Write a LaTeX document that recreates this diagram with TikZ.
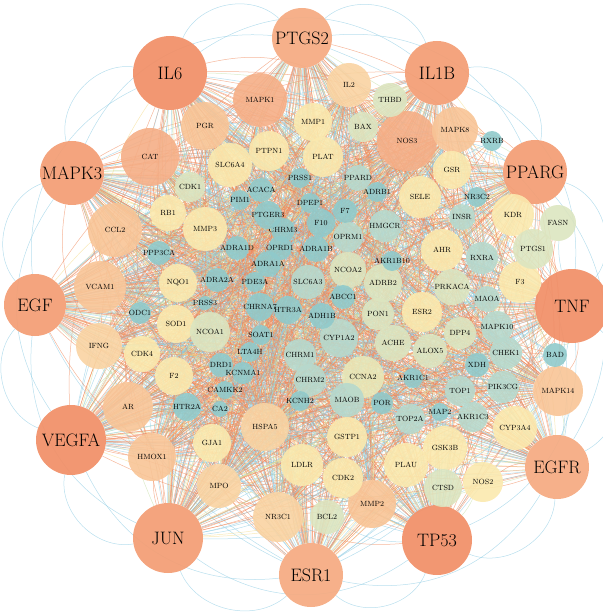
\documentclass[tikz,border=0pt]{standalone}
\usepackage{fontspec}
\usepackage{xcolor}
\usepackage{tikz}
\usetikzlibrary{backgrounds}
\definecolor{hubdark}{HTML}{F1916A}
\definecolor{hubmid}{HTML}{F39F77}
\definecolor{hublight}{HTML}{F5AC84}
\definecolor{corng}{HTML}{F5AE86}
\definecolor{cpch}{HTML}{F8C496}
\definecolor{clpch}{HTML}{F9D3A2}
\definecolor{cyel}{HTML}{FBE9AE}
\definecolor{cygrn}{HTML}{E9E8B8}
\definecolor{cpgrn}{HTML}{DCE5C0}
\definecolor{ctgrn}{HTML}{B7D9CD}
\definecolor{cteal}{HTML}{90CACB}
\definecolor{eor}{HTML}{F08A5D}
\definecolor{ebl}{HTML}{8CCBE3}
\definecolor{egr}{HTML}{C6DFA8}
\definecolor{eye}{HTML}{F5DC8C}
\colorlet{ec0}{eor}\colorlet{ec1}{eor}\colorlet{ec2}{eor}\colorlet{ec3}{eor}
\colorlet{ec4}{eor}\colorlet{ec5}{ebl}\colorlet{ec6}{ebl}\colorlet{ec7}{ebl}
\colorlet{ec8}{egr}\colorlet{ec9}{eye}
\tikzstyle{hub}   = [circle, inner sep=0pt, fill opacity=0.95, text opacity=1,
                     font=\fontsize{18}{20}\selectfont]
\tikzstyle{gene}  = [circle, inner sep=0pt, fill opacity=0.9, text opacity=1,
                     font=\fontsize{7.5}{8}\selectfont\addfontfeature{LetterSpace=18}]
\tikzstyle{orng}  = [gene, fill=corng]
\tikzstyle{pch}   = [gene, fill=cpch]
\tikzstyle{lpch}  = [gene, fill=clpch]
\tikzstyle{yel}   = [gene, fill=cyel]
\tikzstyle{ygrn}  = [gene, fill=cygrn]
\tikzstyle{pgrn}  = [gene, fill=cpgrn]
\tikzstyle{tgrn}  = [gene, fill=ctgrn]
\tikzstyle{tl}    = [gene, fill=cteal]
\tikzstyle{lnk}   = [line width=0.5pt, draw opacity=0.62]
% label that does not widen its circle
\newcommand\gl[1]{\makebox[0pt]{#1}}
\newcommand\hublist{PTGS2,IL1B,PPARG,TNF,EGFR,TP53,ESR1,JUN,VEGFA,EGF,MAPK3,IL6}
\newcommand\midlist{MAPK1,NOS3,CAT,CCL2,VCAM1,AR,MAPK8,PGR,HMOX1,MMP2,MAPK14,%
IFNG,NR3C1,MPO,HSPA5,IL2}
\newcommand\innerlist{RXRA,MAPK10,CHEK1,TOP1,PIK3CG,AKR1C3,TOP2A,HMGCR,SLC6A3,%
OPRM1,CYP1A2,MAOB,CHRM1,CHRM2,INSR,PPARD,MAOA,XDH,AKR1C1,MAP2,POR,KCNH2,%
CAMKK2,CA2,HTR2A,DRD1,KCNMA1,LTA4H,SOAT1,PRSS3,ODC1,PPP3CA,ADRA2A,PDE3A,%
ADRA1A,ADRA1D,OPRD1,CHRM3,PTGER3,PIM1,ACACA,PRSS1,DPEP1,F10,F7,ADRB1,ADRA1B,%
ABCC1,AKR1B10,ADH1B,HTR3A,CHRNA7,NCOA1,NCOA2,ADRB2,PON1,ACHE,CCNA2,ESR2,%
NQO1,SOD1,F2,MMP3,PTPN1,PLAT}
\edef\genelist{\midlist,\innerlist,MMP1,SLC6A4,RB1,CDK4,GJA1,GSTP1,LDLR,%
CDK2,PLAU,GSK3B,NOS2,CYP3A4,F3,KDR,AHR,SELE,GSR,BAX,THBD,BCL2,CTSD,FASN,%
PTGS1,CDK1,PRKACA,DPP4,ALOX5,RXRB,BAD,NR3C2}

\begin{document}
\begin{tikzpicture}[x=1pt, y=-1pt]
  \useasboundingbox (0,0) rectangle (602,612);

  % hubs
  \node[hub, fill=hublight, minimum size=60] (PTGS2) at (302,38) {PTGS2};
  \node[hub, fill=hubdark, minimum size=74] (IL6) at (170,73) {IL6};
  \node[hub, fill=hubmid, minimum size=64] (IL1B) at (437,73) {IL1B};
  \node[hub, fill=hubmid, minimum size=64] (MAPK3) at (72,173) {MAPK3};
  \node[hub, fill=hubmid, minimum size=64] (PPARG) at (535,172) {PPARG};
  \node[hub, fill=hubmid, minimum size=62] (EGF) at (35,305) {EGF};
  \node[hub, fill=hubdark, minimum size=74] (TNF) at (572,306) {TNF};
  \node[hub, fill=hubdark, minimum size=70] (VEGFA) at (71,440) {VEGFA};
  \node[hub, fill=hublight, minimum size=64] (EGFR) at (557,467) {EGFR};
  \node[hub, fill=hubmid, minimum size=70] (JUN) at (168,538) {JUN};
  \node[hub, fill=hubdark, minimum size=70] (TP53) at (437,540) {TP53};
  \node[hub, fill=hublight, minimum size=64] (ESR1) at (311,575) {ESR1};

  % second ring
  \node[orng, minimum size=54] (MAPK1) at (260,100) {\gl{MAPK1}};
  \node[orng, minimum size=60] (NOS3) at (407,141) {\gl{NOS3}};
  \node[orng, minimum size=58] (CAT) at (150,157) {\gl{CAT}};
  \node[pch, minimum size=54] (CCL2) at (115,230) {\gl{CCL2}};
  \node[pch, minimum size=52] (VCAM1) at (100,287) {\gl{VCAM1}};
  \node[pch, minimum size=50] (AR) at (128,407) {\gl{AR}};
  \node[pch, minimum size=46] (MAPK8) at (455,130) {\gl{MAPK8}};
  \node[pch, minimum size=48] (PGR) at (205,126) {\gl{PGR}};
  \node[pch, minimum size=48] (HMOX1) at (152,457) {\gl{HMOX1}};
  \node[pch, minimum size=48] (MMP2) at (372,504) {\gl{MMP2}};
  \node[pch, minimum size=50] (MAPK14) at (558,391) {\gl{MAPK14}};
  \node[lpch, minimum size=46] (IFNG) at (99,346) {\gl{IFNG}};
  \node[lpch, minimum size=50] (NR3C1) at (278,517) {\gl{NR3C1}};
  \node[lpch, minimum size=44] (MPO) at (219,486) {\gl{MPO}};
  \node[lpch, minimum size=48] (HSPA5) at (265,427) {\gl{HSPA5}};
  \node[lpch, minimum size=44] (IL2) at (349,85) {\gl{IL2}};

  % yellow
  \node[yel, minimum size=38] (MMP1) at (313,122) {\gl{MMP1}};
  \node[yel, minimum size=40] (PTPN1) at (269,151) {\gl{PTPN1}};
  \node[yel, minimum size=40] (PLAT) at (323,157) {\gl{PLAT}};
  \node[yel, minimum size=44] (SLC6A4) at (230,165) {\gl{SLC6A4}};
  \node[yel, minimum size=36] (RB1) at (168,213) {\gl{RB1}};
  \node[yel, minimum size=44] (MMP3) at (205,229) {\gl{MMP3}};
  \node[yel, minimum size=38] (NQO1) at (178,283) {\gl{NQO1}};
  \node[yel, minimum size=38] (SOD1) at (176,324) {\gl{SOD1}};
  \node[yel, minimum size=36] (CDK4) at (142,354) {\gl{CDK4}};
  \node[yel, minimum size=38] (F2) at (174,376) {\gl{F2}};
  \node[yel, minimum size=38] (GJA1) at (212,443) {\gl{GJA1}};
  \node[yel, minimum size=40] (GSTP1) at (347,437) {\gl{GSTP1}};
  \node[yel, minimum size=42] (LDLR) at (302,465) {\gl{LDLR}};
  \node[yel, minimum size=40] (CDK2) at (343,478) {\gl{CDK2}};
  \node[yel, minimum size=44] (PLAU) at (406,465) {\gl{PLAU}};
  \node[yel, minimum size=44] (GSK3B) at (445,448) {\gl{GSK3B}};
  \node[yel, minimum size=40] (NOS2) at (483,482) {\gl{NOS2}};
  \node[yel, minimum size=44] (CYP3A4) at (515,428) {\gl{CYP3A4}};
  \node[yel, minimum size=42] (F3) at (520,282) {\gl{F3}};
  \node[yel, minimum size=42] (KDR) at (513,215) {\gl{KDR}};
  \node[yel, minimum size=42] (AHR) at (442,250) {\gl{AHR}};
  \node[yel, minimum size=42] (SELE) at (420,197) {\gl{SELE}};
  \node[yel, minimum size=38] (GSR) at (452,170) {\gl{GSR}};
  \node[yel, minimum size=40] (ESR2) at (422,312) {\gl{ESR2}};
  \node[ygrn, minimum size=42] (CCNA2) at (363,377) {\gl{CCNA2}};

  % pale green
  \node[pgrn, minimum size=30] (BAX) at (363,127) {\gl{BAX}};
  \node[pgrn, minimum size=34] (THBD) at (390,100) {\gl{THBD}};
  \node[pgrn, minimum size=34] (BCL2) at (327,517) {\gl{BCL2}};
  \node[pgrn, minimum size=38] (CTSD) at (443,488) {\gl{CTSD}};
  \node[pgrn, minimum size=36] (FASN) at (558,223) {\gl{FASN}};
  \node[pgrn, minimum size=40] (PTGS1) at (533,249) {\gl{PTGS1}};
  \node[pgrn, minimum size=30] (CDK1) at (190,187) {\gl{CDK1}};
  \node[pgrn, minimum size=36] (PRKACA) at (452,287) {\gl{PRKACA}};
  \node[pgrn, minimum size=32] (DPP4) at (460,333) {\gl{DPP4}};
  \node[pgrn, minimum size=34] (ALOX5) at (430,351) {\gl{ALOX5}};
  \node[pgrn, minimum size=36] (NCOA2) at (348,270) {\gl{NCOA2}};
  \node[pgrn, minimum size=38] (ADRB2) at (383,283) {\gl{ADRB2}};
  \node[pgrn, minimum size=32] (PON1) at (378,314) {\gl{PON1}};
  \node[pgrn, minimum size=36] (ACHE) at (393,343) {\gl{ACHE}};
  \node[pgrn, minimum size=40] (NCOA1) at (210,332) {\gl{NCOA1}};

  % teal green
  \node[tgrn, minimum size=32] (RXRA) at (482,258) {\gl{RXRA}};
  \node[tgrn, minimum size=32] (MAPK10) at (497,327) {\gl{MAPK10}};
  \node[tgrn, minimum size=32] (CHEK1) at (506,353) {\gl{CHEK1}};
  \node[tgrn, minimum size=30] (TOP1) at (460,391) {\gl{TOP1}};
  \node[tgrn, minimum size=32] (PIK3CG) at (503,387) {\gl{PIK3CG}};
  \node[tgrn, minimum size=30] (AKR1C3) at (473,417) {\gl{AKR1C3}};
  \node[tgrn, minimum size=30] (TOP2A) at (410,419) {\gl{TOP2A}};
  \node[tgrn, minimum size=32] (HMGCR) at (385,226) {\gl{HMGCR}};
  \node[tgrn, minimum size=34] (SLC6A3) at (308,282) {\gl{SLC6A3}};
  \node[tgrn, minimum size=30] (OPRM1) at (348,237) {\gl{OPRM1}};
  \node[tgrn, minimum size=38] (CYP1A2) at (339,338) {\gl{CYP1A2}};
  \node[tgrn, minimum size=34] (MAOB) at (347,400) {\gl{MAOB}};
  \node[tgrn, minimum size=32] (CHRM1) at (300,355) {\gl{CHRM1}};
  \node[tgrn, minimum size=32] (CHRM2) at (310,380) {\gl{CHRM2}};
  \node[tgrn, minimum size=26] (INSR) at (462,217) {\gl{INSR}};
  \node[tgrn, minimum size=26] (PPARD) at (358,178) {\gl{PPARD}};
  \node[tgrn, minimum size=26] (MAOA) at (487,299) {\gl{MAOA}};

  % teal
  \node[tl, minimum size=20] (RXRB) at (492,141) {\gl{RXRB}};
  \node[tl, minimum size=24] (BAD) at (555,355) {\gl{BAD}};
  \node[tl, minimum size=20] (NR3C2) at (477,197) {\gl{NR3C2}};
  \node[tl, minimum size=24] (XDH) at (477,365) {\gl{XDH}};
  \node[tl, minimum size=20] (AKR1C1) at (413,378) {\gl{AKR1C1}};
  \node[tl, minimum size=18] (MAP2) at (440,412) {\gl{MAP2}};
  \node[tl, minimum size=22] (POR) at (382,403) {\gl{POR}};
  \node[tl, minimum size=20] (KCNH2) at (300,401) {\gl{KCNH2}};
  \node[tl, minimum size=18] (CAMKK2) at (225,390) {\gl{CAMKK2}};
  \node[tl, minimum size=16] (CA2) at (220,409) {\gl{CA2}};
  \node[tl, minimum size=28] (HTR2A) at (187,407) {\gl{HTR2A}};
  \node[tl, minimum size=24] (DRD1) at (221,365) {\gl{DRD1}};
  \node[tl, minimum size=22] (KCNMA1) at (243,373) {\gl{KCNMA1}};
  \node[tl, minimum size=20] (LTA4H) at (250,352) {\gl{LTA4H}};
  \node[tl, minimum size=20] (SOAT1) at (261,335) {\gl{SOAT1}};
  \node[tl, minimum size=14] (PRSS3) at (205,303) {\gl{PRSS3}};
  \node[tl, minimum size=22] (ODC1) at (140,313) {\gl{ODC1}};
  \node[tl, minimum size=24] (PPP3CA) at (159,253) {\gl{PPP3CA}};
  \node[tl, minimum size=24] (ADRA2A) at (217,280) {\gl{ADRA2A}};
  \node[tl, minimum size=20] (PDE3A) at (255,282) {\gl{PDE3A}};
  \node[tl, minimum size=26] (ADRA1A) at (268,264) {\gl{ADRA1A}};
  \node[tl, minimum size=24] (ADRA1D) at (237,248) {\gl{ADRA1D}};
  \node[tl, minimum size=24] (OPRD1) at (280,248) {\gl{OPRD1}};
  \node[tl, minimum size=24] (CHRM3) at (283,230) {\gl{CHRM3}};
  \node[tl, minimum size=28] (PTGER3) at (268,215) {\gl{PTGER3}};
  \node[tl, minimum size=20] (PIM1) at (240,200) {\gl{PIM1}};
  \node[tl, minimum size=24] (ACACA) at (261,190) {\gl{ACACA}};
  \node[tl, minimum size=20] (PRSS1) at (300,178) {\gl{PRSS1}};
  \node[tl, minimum size=20] (DPEP1) at (310,203) {\gl{DPEP1}};
  \node[tl, minimum size=28] (F10) at (321,223) {\gl{F10}};
  \node[tl, minimum size=24] (F7) at (345,211) {\gl{F7}};
  \node[tl, minimum size=20] (ADRB1) at (377,192) {\gl{ADRB1}};
  \node[tl, minimum size=26] (ADRA1B) at (316,249) {\gl{ADRA1B}};
  \node[tl, minimum size=24] (ABCC1) at (343,297) {\gl{ABCC1}};
  \node[tl, minimum size=20] (AKR1B10) at (392,261) {\gl{AKR1B10}};
  \node[tl, minimum size=26] (ADH1B) at (322,316) {\gl{ADH1B}};
  \node[tl, minimum size=28] (HTR3A) at (288,310) {\gl{HTR3A}};
  \node[tl, minimum size=28] (CHRNA7) at (260,307) {\gl{CHRNA7}};

  % links
  \begin{pgfonlayer}{background}
    \foreach \h [count=\hi] in \hublist
      \foreach \g [count=\gi] in \genelist {
        \pgfmathtruncatemacro\ci{mod(\hi*7+\gi*3,10)}
        \pgfmathtruncatemacro\bnd{mod(\hi*11+\gi*7,41)-20}
        \draw[lnk, draw=ec\ci] (\h) to[bend left=\bnd] (\g);
      }
    \foreach \m [count=\hi] in \midlist
      \foreach \g [count=\gi] in \innerlist {
        \pgfmathtruncatemacro\ci{mod(\hi*3+\gi*7,10)}
        \pgfmathtruncatemacro\bnd{mod(\hi*5+\gi*13,41)-20}
        \draw[lnk, draw=ec\ci] (\m) to[bend left=\bnd] (\g);
      }
    \foreach \a/\b in {PTGS2/IL1B,IL1B/PPARG,PPARG/TNF,TNF/EGFR,EGFR/TP53,
                       TP53/ESR1,ESR1/JUN,JUN/VEGFA,VEGFA/EGF,EGF/MAPK3,
                       MAPK3/IL6,IL6/PTGS2}
      \draw[lnk, draw=ebl] (\a) to[bend left=55] (\b);
    \foreach \a/\b in {PTGS2/PPARG,IL1B/TNF,PPARG/EGFR,TNF/TP53,EGFR/ESR1,
                       TP53/JUN,ESR1/VEGFA,JUN/EGF,VEGFA/MAPK3,EGF/IL6,
                       MAPK3/PTGS2,IL6/IL1B}
      \draw[lnk, draw=ebl] (\a) to[bend left=35] (\b);
  \end{pgfonlayer}
\end{tikzpicture}
\end{document}
